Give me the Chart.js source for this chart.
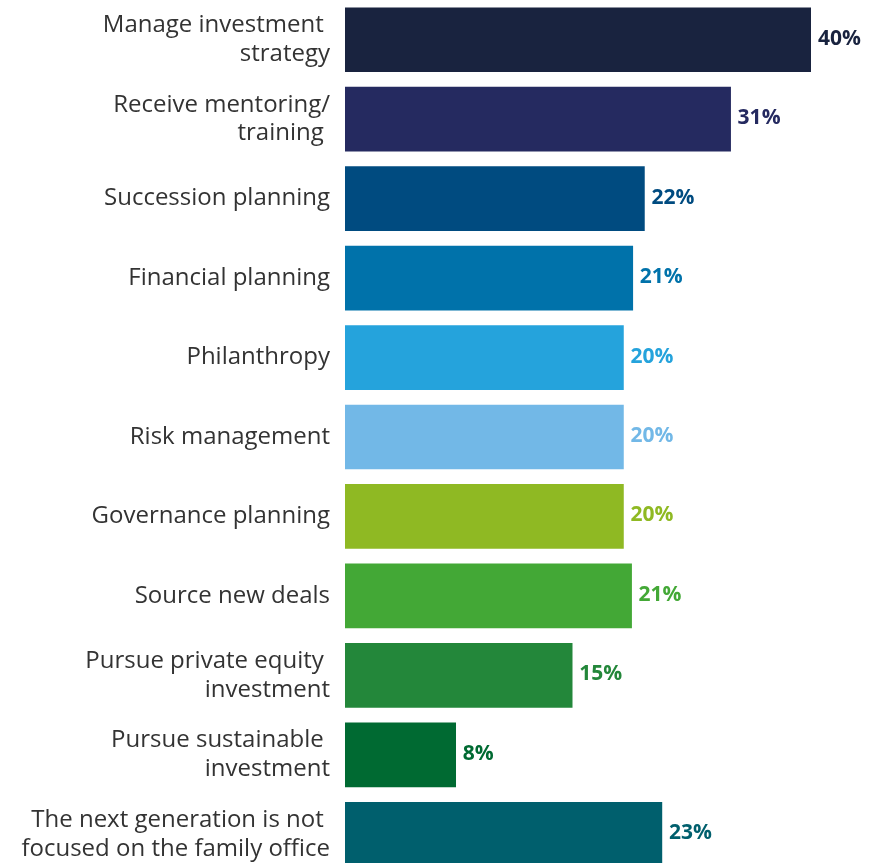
<!DOCTYPE html>
<html>
<head>
<meta charset="utf-8">
<script src="https://cdn.jsdelivr.net/npm/chart.js@4/dist/chart.umd.min.js"></script>
<style>
  html, body { margin: 0; padding: 0; background: #fff; overflow: hidden; }
  #wrap { width: 871px; height: 874px; position: relative; }
</style>
</head>
<body>
<div id="wrap"><canvas id="barChart"></canvas></div>
<script>
// Categories (multi-line labels as in the reference)
const categories = [
    ['Manage investment ', 'strategy'],
    ['Receive mentoring/', 'training '],
    ['Succession planning'],
    ['Financial planning'],
    ['Philanthropy'],
    ['Risk management'],
    ['Governance planning'],
    ['Source new deals'],
    ['Pursue private equity ', 'investment'],
    ['Pursue sustainable ', 'investment'],
    ['The next generation is not ', 'focused on the family office']
];

// Printed percentages
const printedValues = [40, 31, 22, 21, 20, 20, 20, 21, 15, 8, 23];

// Bar lengths as drawn in the picture (same % units, the 40% bar as reference)
const barValues = [40, 33.1, 25.7, 24.7, 23.9, 23.9, 23.9, 24.6, 19.5, 9.5, 27.2];

const barColors = [
    '#19233f', '#252a60', '#004b80', '#0072aa', '#25a3dc', '#72b8e7',
    '#8fb923', '#43a836', '#23873a', '#006a32', '#005f6d'
];

// Value labels at the end of each bar
const valueLabels = {
    id: 'valueLabels',
    afterDatasetsDraw(chart) {
        const ctx = chart.ctx;
        const meta = chart.getDatasetMeta(0);
        ctx.save();
        ctx.font = 'bold 21px "Open Sans"';
        ctx.textAlign = 'left';
        ctx.textBaseline = 'middle';
        meta.data.forEach((bar, i) => {
            ctx.fillStyle = barColors[i];
            ctx.fillText(printedValues[i] + '%', bar.x + 7, bar.y - 1);
        });
        ctx.restore();
    }
};

const ctx = document.getElementById('barChart').getContext('2d');
new Chart(ctx, {
    type: 'bar',
    data: {
        labels: categories,
        datasets: [{
            data: barValues,
            backgroundColor: barColors,
            borderWidth: 0,
            barThickness: 64
        }]
    },
    options: {
        indexAxis: 'y',
        responsive: true,
        maintainAspectRatio: false,
        animation: false,
        layout: { padding: { left: 0, right: 60, top: 0, bottom: 0 } },
        plugins: {
            legend: { display: false },
            tooltip: { enabled: false }
        },
        scales: {
            x: {
                display: false,
                min: 0,
                max: 40
            },
            y: {
                grid: { display: false, drawTicks: false },
                border: { display: false },
                ticks: {
                    color: '#333333',
                    padding: 15,
                    font: { family: 'Open Sans', size: 24, lineHeight: 1.2 }
                },
                afterFit(scale) {
                    scale.width = 345;
                    // no extra room above/below for the tick labels
                    scale.paddingTop = 0;
                    scale.paddingBottom = 0;
                }
            }
        }
    },
    plugins: [valueLabels]
});
</script>
</body>
</html>
